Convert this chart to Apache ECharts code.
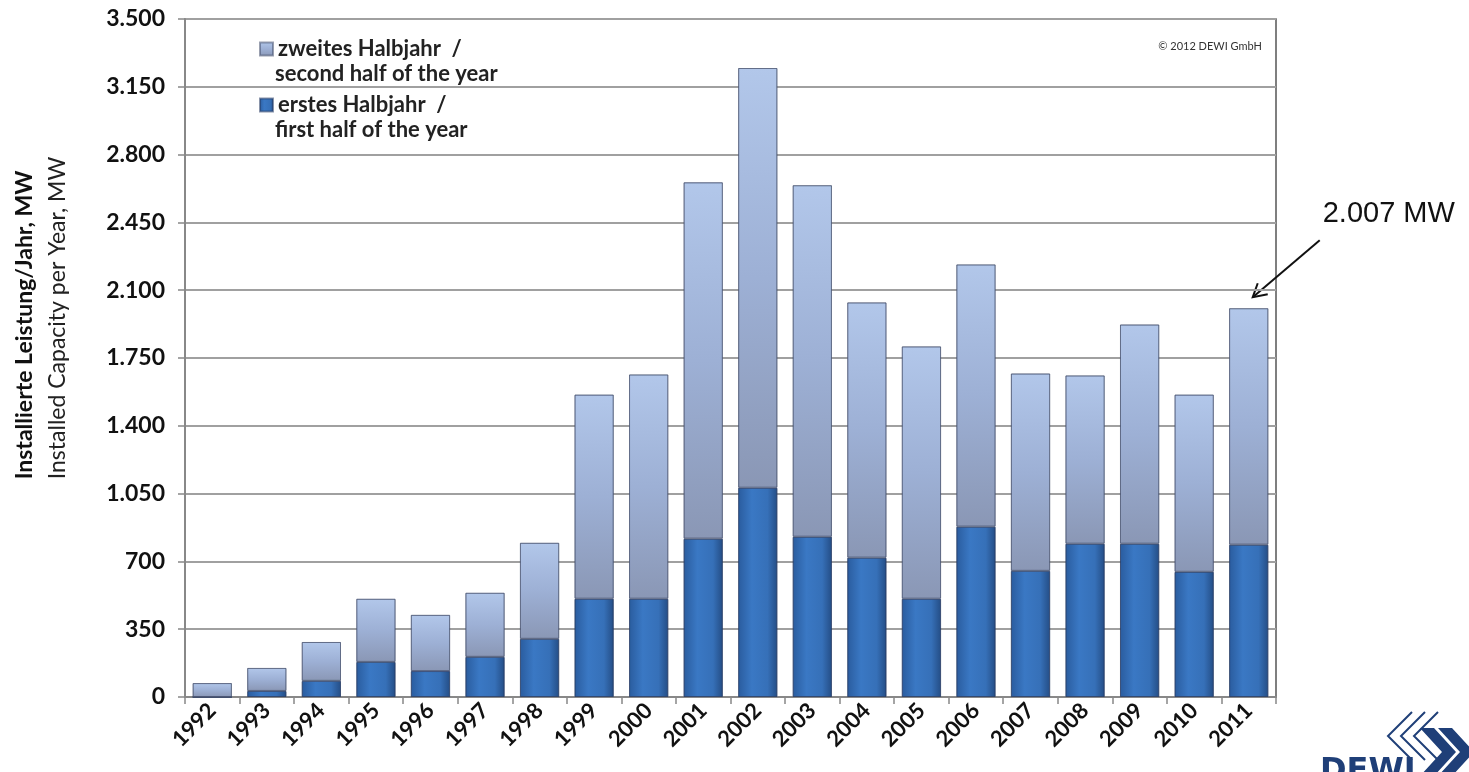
<!DOCTYPE html>
<html>
<head>
<meta charset="utf-8">
<script src="https://cdn.jsdelivr.net/npm/echarts@6/dist/echarts.min.js"></script>
<style>
html, body { margin: 0; padding: 0; background: #fff; }
#main { width: 1469px; height: 772px; }
</style>
</head>
<body>
<div id="main"></div>
<script>
// Jährlich installierte Leistung, Deutschland (DEWI)
var years = ['1992', '1993', '1994', '1995', '1996', '1997', '1998', '1999', '2000', '2001',
	'2002', '2003', '2004', '2005', '2006', '2007', '2008', '2009', '2010', '2011'];
// erstes Halbjahr, MW
var firstHalf = [0, 31, 83, 181, 134, 207, 300, 507, 507, 817,
	1080, 827, 719, 507, 879, 651, 791, 791, 646, 786];
// zweites Halbjahr, MW
var secondHalf = [72, 119, 201, 326, 290, 331, 496, 1054, 1158, 1840,
	2167, 1815, 1318, 1303, 1354, 1019, 869, 1132, 915, 1221];
var yMin = 0, yMax = 3500, yStep = 350;
var annotationText = '2.007 MW';

var font = 'Lato';
var navy = '#1f3f78';

function fmt(v) {
	return String(v).replace(/\B(?=(\d{3})+(?!\d))/g, '.');
}

var myChart = echarts.init(document.getElementById('main'));

var firstColor = new echarts.graphic.LinearGradient(0, 0, 1, 0, [
	{offset: 0, color: '#2a5c9e'},
	{offset: 0.35, color: '#3a78c4'},
	{offset: 0.75, color: '#3670b8'},
	{offset: 1, color: '#244d85'}
]);
var secondColor = new echarts.graphic.LinearGradient(0, 0, 0, 1, [
	{offset: 0, color: '#b2c7ea'},
	{offset: 0.5, color: '#9db0d5'},
	{offset: 1, color: '#8a97b5'}
]);

option = {
	animation: false,
	backgroundColor: '#fff',
	grid: {
		left: 185,
		right: 193,
		top: 19,
		bottom: 75,
		show: true,
		borderColor: '#555',
		borderWidth: 1.5
	},
	legend: {
		orient: 'vertical',
		left: 254,
		top: 30,
		itemWidth: 13,
		itemHeight: 13,
		itemGap: 28,
		icon: 'rect',
		data: ['zweites Halbjahr  /', 'erstes Halbjahr  /'],
		textStyle: {
			fontFamily: font,
			fontSize: 22,
			fontWeight: 'bold',
			color: '#222',
			lineHeight: 28
		}
	},
	xAxis: {
		type: 'category',
		data: years,
		axisLine: {lineStyle: {color: '#888', width: 2}},
		axisTick: {show: true, alignWithLabel: false, length: 7, lineStyle: {color: '#888', width: 1.5}},
		axisLabel: {
			interval: 0,
			rotate: 45,
			margin: 10,
			fontFamily: font,
			fontSize: 22,
			fontWeight: 'bold',
			color: '#111'
		}
	},
	yAxis: {
		type: 'value',
		min: yMin,
		max: yMax,
		interval: yStep,
		axisLine: {show: true, lineStyle: {color: '#888', width: 2}},
		axisTick: {show: true, length: 7, lineStyle: {color: '#888', width: 1.5}},
		splitLine: {lineStyle: {color: '#a0a0a0', width: 2}},
		axisLabel: {
			margin: 20,
			fontFamily: font,
			fontSize: 23,
			fontWeight: 'bold',
			color: '#111',
			formatter: fmt
		}
	},
	series: [{
		name: 'erstes Halbjahr  /',
		type: 'bar',
		stack: 'total',
		barWidth: '72%',
		data: firstHalf,
		itemStyle: {color: firstColor, borderColor: 'rgba(40,60,100,0.55)', borderWidth: 1}
	}, {
		name: 'zweites Halbjahr  /',
		type: 'bar',
		stack: 'total',
		barWidth: '72%',
		data: secondHalf,
		itemStyle: {color: secondColor, borderColor: 'rgba(70,80,110,0.55)', borderWidth: 1}
	}],
	graphic: [{
		type: 'text',
		left: 275,
		top: 63,
		style: {text: 'second half of the year', fontFamily: font, fontSize: 22, fontWeight: 'bold', fill: '#222'}
	}, {
		type: 'text',
		left: 275,
		top: 119,
		style: {text: 'first half of the year', fontFamily: font, fontSize: 22, fontWeight: 'bold', fill: '#222'}
	}, {
		type: 'text',
		right: 207,
		top: 41,
		style: {text: '© 2012 DEWI GmbH', fontFamily: font, fontSize: 11, fill: '#333'}
	}, {
		type: 'text',
		x: 25,
		y: 325,
		rotation: Math.PI / 2,
		style: {text: 'Installierte Leistung/Jahr, MW', fontFamily: font, fontSize: 23, fontWeight: 'bold', fill: '#111', align: 'center', verticalAlign: 'middle'}
	}, {
		type: 'text',
		x: 58,
		y: 318,
		rotation: Math.PI / 2,
		style: {text: 'Installed Capacity per Year, MW', fontFamily: font, fontSize: 23, fill: '#222', align: 'center', verticalAlign: 'middle'}
	}, {
		// DEWI-Logo, unten abgeschnitten
		type: 'group',
		x: 0,
		y: 0,
		children: [{
			type: 'polyline',
			shape: {points: [[1412, 712], [1388, 736], [1412, 760]]},
			style: {stroke: navy, lineWidth: 2, fill: null}
		}, {
			type: 'polyline',
			shape: {points: [[1425, 712], [1401, 736], [1425, 760]]},
			style: {stroke: navy, lineWidth: 2, fill: null}
		}, {
			type: 'polyline',
			shape: {points: [[1438, 712], [1414, 736], [1438, 760]]},
			style: {stroke: navy, lineWidth: 2, fill: null}
		}, {
			type: 'polygon',
			shape: {points: [[1420, 728], [1442, 752], [1420, 776], [1434, 776], [1456, 752], [1434, 728]]},
			style: {fill: navy}
		}, {
			type: 'polygon',
			shape: {points: [[1438, 728], [1460, 752], [1438, 776], [1452, 776], [1474, 752], [1452, 728]]},
			style: {fill: navy}
		}, {
			type: 'text',
			x: 1320,
			y: 756,
			style: {text: 'DEWI', fontFamily: 'DejaVu Sans', fontSize: 32, fontWeight: 'bold', fill: navy}
		}]
	}]
};

myChart.setOption(option);

// Pfeil auf den letzten Balken (2011)
var last = years.length - 1;
var total = firstHalf[last] + secondHalf[last];
var p = myChart.convertToPixel({gridIndex: 0}, [last, total]);
var tip = [p[0] + 4, p[1] - 11];
var start = [tip[0] + 67, tip[1] - 57];
myChart.setOption({
	graphic: option.graphic.concat([{
		type: 'line',
		shape: {x1: start[0], y1: start[1], x2: tip[0], y2: tip[1]},
		style: {stroke: '#111', lineWidth: 2}
	}, {
		type: 'polyline',
		shape: {points: [[tip[0] + 15, tip[1] - 3], [tip[0], tip[1]], [tip[0] + 5, tip[1] - 14]]},
		style: {stroke: '#111', lineWidth: 2, fill: null}
	}, {
		type: 'text',
		x: start[0] + 3,
		y: start[1] - 26,
		style: {text: annotationText, fontFamily: 'Liberation Sans', fontSize: 29, fill: '#111', verticalAlign: 'middle'}
	}])
});
</script>
</body>
</html>
